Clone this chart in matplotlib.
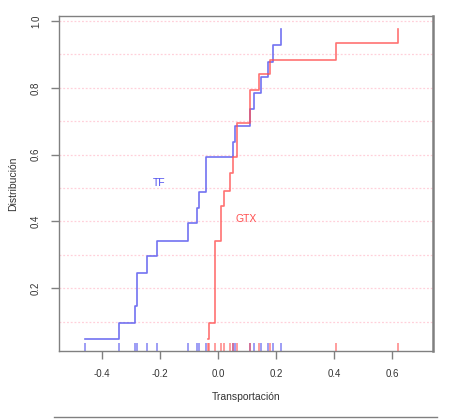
import matplotlib
matplotlib.use("Agg")
import matplotlib.pyplot as plt
from matplotlib.lines import Line2D

plt.rcParams['font.family'] = ['Liberation Sans', 'DejaVu Sans']

# step positions and cumulative levels
TF_X = [-0.459, -0.341, -0.286, -0.279, -0.245, -0.210, -0.103, -0.072, -0.064,
        -0.041, 0.050, 0.059, 0.110, 0.125, 0.148, 0.172, 0.190, 0.217]
TF_Y = [0.047, 0.097, 0.147, 0.246, 0.296, 0.342, 0.394, 0.441, 0.489,
        0.594, 0.638, 0.686, 0.736, 0.784, 0.833, 0.877, 0.928, 0.975]

GTX_X = [-0.034, -0.030, -0.010, 0.009, 0.022, 0.041, 0.050, 0.064, 0.110,
         0.141, 0.179, 0.407, 0.620]
GTX_Y = [0.047, 0.097, 0.342, 0.446, 0.492, 0.544, 0.594, 0.694, 0.793,
         0.840, 0.883, 0.933, 0.976]

X_TICKS = [-0.4, -0.2, 0.0, 0.2, 0.4, 0.6]
Y_TICKS = [0.2, 0.4, 0.6, 0.8, 1.0]
GRID_Y = [0.1, 0.2, 0.3, 0.4, 0.5, 0.6, 0.7, 0.8, 0.9, 1.0]

BLUE = '#4f4fee'
RED = '#ff4f4f'
GRAY = '#808080'

fig = plt.figure(figsize=(4.59, 4.19), dpi=100)
ax = fig.add_axes([0.1285, 0.1623, 0.8149, 0.7995])

for g in GRID_Y:
    ax.axhline(g, color='#ffd0da', lw=0.9, ls=(0, (1.5, 1.5)), zorder=0)

ax.step(TF_X, TF_Y, where='post', color=BLUE, lw=1.2, alpha=0.8)
ax.step(GTX_X, GTX_Y, where='post', color=RED, lw=1.2, alpha=0.8)

# rug marks at the bottom
trans = ax.get_xaxis_transform()
ax.vlines(TF_X, 0, 0.025, transform=trans, color=BLUE, lw=1.3, alpha=0.6)
ax.vlines(GTX_X, 0, 0.025, transform=trans, color=RED, lw=1.3, alpha=0.6)

ax.text(-0.203, 0.515, 'TF', color=BLUE, fontsize=7.5, ha='center', va='center')
ax.text(0.097, 0.406, 'GTX', color=RED, fontsize=7.5, ha='center', va='center')

ax.set_xlim(-0.548, 0.741)
ax.set_ylim(0.012, 1.015)
ax.set_xticks(X_TICKS)
ax.set_xticklabels([f'{t:.1f}' for t in X_TICKS])
ax.set_yticks(Y_TICKS)
ax.set_yticklabels([f'{t:.1f}' for t in Y_TICKS], rotation=90, va='center')
ax.tick_params(colors=GRAY, labelcolor='#333333', labelsize=7,
               length=6, width=1, pad=7)

for s in ax.spines.values():
    s.set_color(GRAY)
    s.set_linewidth(1)
ax.spines['right'].set_linewidth(1.8)

ax.set_xlabel('Transportación', fontsize=7.5, color='#333333', labelpad=9)
ax.set_ylabel('Distribución', fontsize=7.5, color='#333333', labelpad=9)

fig.add_artist(Line2D([54 / 459, 437 / 459], [0.004, 0.004], color=GRAY, lw=1))

fig.savefig('out.png', dpi=100)
